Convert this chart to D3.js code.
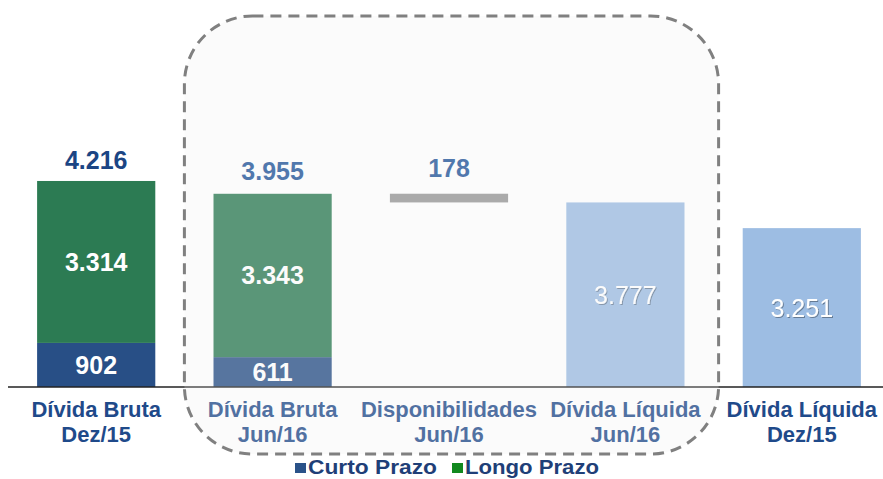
<!DOCTYPE html>
<html>
<head>
<meta charset="utf-8">
<script src="https://cdn.jsdelivr.net/npm/d3@7"></script>
<style>
  body { margin: 0; background: #fff; }
  text { font-family: "Liberation Sans", Arial, sans-serif; }
</style>
</head>
<body>
<div id="chart"></div>
<script>
// data
var categories = ["Dívida Bruta\nDez/15", "Dívida Bruta\nJun/16", "Disponibilidades\nJun/16",
                  "Dívida Líquida\nJun/16", "Dívida Líquida\nDez/15"];
var curtoPrazo = [902, 611];          // first two categories
var longoPrazo = [3314, 3343];
var totais = [4216, 3955];
var disponibilidades = 178;
var dividaLiquida = [3777, 3251];     // last two categories
var legendItems = ["Curto Prazo", "Longo Prazo"];

var width = 883, height = 479, baseY = 387;

var fmt = d3.formatLocale({decimal: ",", thousands: ".", grouping: [3], currency: ["R$", ""]}).format(",");

var svg = d3.select("#chart").append("svg")
    .attr("width", width)
    .attr("height", height);

var defs = svg.append("defs");
defs.append("filter").attr("id", "shadow")
    .append("feDropShadow")
    .attr("dx", 1).attr("dy", 1).attr("stdDeviation", 0.6)
    .attr("flood-color", "#000").attr("flood-opacity", 0.35);

var x = d3.scaleBand()
    .domain(categories)
    .range([8, 890])
    .paddingInner(0.33)
    .paddingOuter(0.165);

var y = d3.scaleLinear()
    .domain([0, 4500])
    .range([baseY, baseY - 219.9]);

var bw = x.bandwidth();

// stacked bars (Curto / Longo)
curtoPrazo.forEach(function(c, i) {
    var cat = categories[i];
    svg.append("rect")
        .attr("x", x(cat)).attr("width", bw)
        .attr("y", y(c)).attr("height", y(0) - y(c))
        .attr("fill", "#284f86");
    svg.append("rect")
        .attr("x", x(cat)).attr("width", bw)
        .attr("y", y(c + longoPrazo[i])).attr("height", y(c) - y(c + longoPrazo[i]))
        .attr("fill", "#2c7b53");
    // inner labels
    svg.append("text")
        .attr("x", x(cat) + bw / 2).attr("y", (y(0) + y(c)) / 2)
        .attr("dy", "0.36em").attr("text-anchor", "middle")
        .attr("fill", "#fff").attr("font-size", 25).attr("font-weight", "bold")
        .text(fmt(c));
    svg.append("text")
        .attr("x", x(cat) + bw / 2).attr("y", (y(c) + y(c + longoPrazo[i])) / 2)
        .attr("dy", "0.36em").attr("text-anchor", "middle")
        .attr("fill", "#fff").attr("font-size", 25).attr("font-weight", "bold")
        .text(fmt(longoPrazo[i]));
    // totals
    svg.append("text")
        .attr("x", x(cat) + bw / 2).attr("y", y(totais[i]) - 12 - i * 2)
        .attr("text-anchor", "middle")
        .attr("fill", i === 0 ? "#1b4584" : "#1f5499").attr("font-size", 25).attr("font-weight", "bold")
        .text(fmt(totais[i]));
});

// disponibilidades (floating)
var dispCat = categories[2];
svg.append("rect")
    .attr("x", x(dispCat)).attr("width", bw)
    .attr("y", y(totais[1])).attr("height", y(totais[1] - disponibilidades) - y(totais[1]))
    .attr("fill", "#959595");
svg.append("text")
    .attr("x", x(dispCat) + bw / 2).attr("y", y(totais[1]) - 17)
    .attr("text-anchor", "middle")
    .attr("fill", "#1f5499").attr("font-size", 25).attr("font-weight", "bold")
    .text(fmt(disponibilidades));

// divida liquida
dividaLiquida.forEach(function(v, i) {
    var cat = categories[3 + i];
    svg.append("rect")
        .attr("x", x(cat)).attr("width", bw)
        .attr("y", y(v)).attr("height", y(0) - y(v))
        .attr("fill", "#9dbde3");
    svg.append("text")
        .attr("x", x(cat) + bw / 2).attr("y", (y(0) + y(v)) / 2)
        .attr("dy", "0.36em").attr("text-anchor", "middle")
        .attr("fill", "#fff").attr("font-size", 25)
        .attr("filter", "url(#shadow)")
        .text(fmt(v));
});

// baseline
svg.append("line")
    .attr("x1", 8).attr("x2", width)
    .attr("y1", baseY).attr("y2", baseY)
    .attr("stroke", "#222").attr("stroke-width", 1.6);

// category labels
categories.forEach(function(cat) {
    var t = svg.append("text")
        .attr("text-anchor", "middle")
        .attr("fill", "#1f4a8a").attr("font-size", 22).attr("font-weight", "bold");
    cat.split("\n").forEach(function(line, j) {
        t.append("tspan")
            .attr("x", x(cat) + bw / 2)
            .attr("y", 417 + j * 25)
            .text(line);
    });
});

// highlight box over Jun/16 columns
var gap = x.step() - bw;
var boxL = x(categories[1]) - gap / 2;
var boxR = x(categories[3]) + bw + gap / 2 + 5;
svg.append("rect")
    .attr("x", boxL).attr("y", 16)
    .attr("width", boxR - boxL).attr("height", 454 - 16)
    .attr("rx", 68).attr("ry", 68)
    .attr("fill", "#f0f0f0").attr("fill-opacity", 0.24)
    .attr("stroke", "#808080").attr("stroke-width", 3)
    .attr("stroke-dasharray", "11,7");

// legend
var legendColors = ["#2a5289", "#12891f"];
var legX = [295, 452];
var legW = [129, 134];
legendItems.forEach(function(name, i) {
    svg.append("rect")
        .attr("x", legX[i]).attr("y", 463)
        .attr("width", 11).attr("height", 10)
        .attr("fill", legendColors[i]);
    svg.append("text")
        .attr("x", legX[i] + 13).attr("y", 474)
        .attr("fill", "#1f3f78").attr("font-size", 20).attr("font-weight", "bold")
        .attr("textLength", legW[i]).attr("lengthAdjust", "spacingAndGlyphs")
        .text(name);
});
</script>
</body>
</html>
